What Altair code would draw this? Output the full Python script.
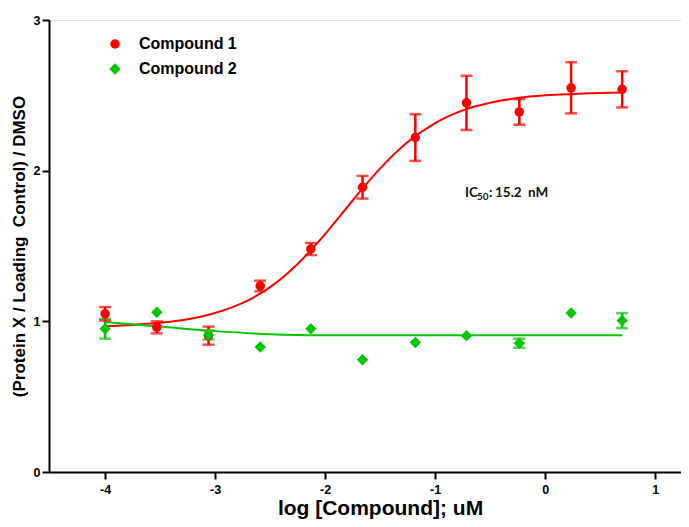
import altair as alt
import pandas as pd

# ---- data ----
log_conc = [-4.0, -3.53, -3.06, -2.59, -2.13, -1.66, -1.18, -0.715, -0.235, 0.236, 0.70]

c1_mean = [1.05, 0.96, 0.905, 1.235, 1.48, 1.89, 2.22, 2.45, 2.39, 2.55, 2.54]
c1_err = [0.045, 0.04, 0.06, 0.035, 0.04, 0.075, 0.155, 0.18, 0.085, 0.17, 0.12]

c2_mean = [0.95, 1.06, 0.91, 0.83, 0.95, 0.745, 0.86, 0.905, 0.855, 1.055, 1.005]
c2_err = [0.065, 0.0, 0.03, 0.0, 0.0, 0.0, 0.0, 0.0, 0.03, 0.0, 0.05]

curve1_x = [-4.0, -3.75, -3.5, -3.25, -3.0, -2.75, -2.5, -2.25, -2.0, -1.75,
            -1.5, -1.25, -1.0, -0.75, -0.5, -0.25, 0.0, 0.35, 0.7]
curve1_y = [0.968, 0.976, 0.99, 1.014, 1.055, 1.122, 1.227, 1.381, 1.579, 1.802,
            2.015, 2.19, 2.316, 2.40, 2.451, 2.482, 2.50, 2.512, 2.518]

curve2_x = [-4.0, -3.5, -3.0, -2.5, -2.0, -1.5, 0.7]
curve2_y = [0.995, 0.965, 0.935, 0.915, 0.908, 0.907, 0.907]

series_names = ["Compound 1", "Compound 2"]
series_colors = ["#FF0000", "#00C800"]
series_shapes = ["circle", "diamond"]
series_sizes = [90, 130]

x_ticks = [-4, -3, -2, -1, 0, 1]
y_ticks = [0, 1, 2, 3]

# ---- tables ----
rows = []
for name, means, errs in [("Compound 1", c1_mean, c1_err), ("Compound 2", c2_mean, c2_err)]:
    for x, m, e in zip(log_conc, means, errs):
        rows.append({"series": name, "x": x, "y": m, "lo": m - e, "hi": m + e, "err": e})
pts = pd.DataFrame(rows)
errs_df = pts[pts["err"] > 0]

curves = pd.DataFrame(
    [{"series": "Compound 1", "x": x, "y": y} for x, y in zip(curve1_x, curve1_y)]
    + [{"series": "Compound 2", "x": x, "y": y} for x, y in zip(curve2_x, curve2_y)]
)

FONT = "Liberation Sans"

x_scale = alt.Scale(domain=[-4.51, 1.235], nice=False, zero=False)
y_scale = alt.Scale(domain=[0, 3], nice=False)
color_scale = alt.Scale(domain=series_names, range=series_colors)
shape_scale = alt.Scale(domain=series_names, range=series_shapes)
size_scale = alt.Scale(domain=series_names, range=series_sizes)

legend = alt.Legend(
    title=None, orient="none", legendX=58, legendY=16,
    labelFont=FONT, labelFontWeight="bold", labelFontSize=16, labelColor="black",
    labelOffset=16, rowPadding=9, padding=0, symbolStrokeWidth=0, symbolOpacity=1,
)

x_axis = alt.Axis(
    values=x_ticks, labelExpr="'' + datum.value", title="log [Compound]; uM",
    labelFont=FONT, labelFontWeight="bold", labelFontSize=12.5, labelColor="black",
    titleFont=FONT, titleFontWeight="bold", titleFontSize=21, titleColor="black",
    titleBaseline="alphabetic", titleY=42, titleX=331, titleAlign="center",
    tickSize=7, tickWidth=2, tickColor="black", domainWidth=2, domainColor="black",
    labelPadding=4, grid=False,
)
y_axis = alt.Axis(
    values=y_ticks, labelExpr="'' + datum.value",
    title="(Protein X / Loading\u00a0 Control) / DMSO",
    labelFont=FONT, labelFontWeight="bold", labelFontSize=12.5, labelColor="black",
    titleFont=FONT, titleFontWeight="bold", titleFontSize=17, titleColor="black",
    titlePadding=5,
    tickSize=7, tickWidth=2, tickColor="black", domainWidth=2, domainColor="black",
    labelPadding=2, grid=False,
)

color_enc = alt.Color("series:N", scale=color_scale, legend=legend)

lines = alt.Chart(curves).mark_line(strokeWidth=2, interpolate="monotone").encode(
    x=alt.X("x:Q", scale=x_scale, axis=x_axis),
    y=alt.Y("y:Q", scale=y_scale, axis=y_axis),
    color=color_enc,
    detail="series:N",
)

bars = alt.Chart(errs_df).mark_rule(strokeWidth=2.5).encode(
    x=alt.X("x:Q", scale=x_scale),
    y=alt.Y("lo:Q", scale=y_scale),
    y2="hi:Q",
    color=color_enc,
)
caps_hi = alt.Chart(errs_df).mark_tick(orient="horizontal", size=12, thickness=2.5).encode(
    x=alt.X("x:Q", scale=x_scale),
    y=alt.Y("hi:Q", scale=y_scale),
    color=color_enc,
)
caps_lo = alt.Chart(errs_df).mark_tick(orient="horizontal", size=12, thickness=2.5).encode(
    x=alt.X("x:Q", scale=x_scale),
    y=alt.Y("lo:Q", scale=y_scale),
    color=color_enc,
)

points = alt.Chart(pts).mark_point(filled=True, opacity=1).encode(
    x=alt.X("x:Q", scale=x_scale),
    y=alt.Y("y:Q", scale=y_scale),
    color=color_enc,
    shape=alt.Shape("series:N", scale=shape_scale, legend=legend),
    size=alt.Size("series:N", scale=size_scale, legend=legend),
)

# IC50 annotation (pixel anchor inside the plot area)
AX, AY = 465 - 49, 193 - 20
ann_font = "Lato"


def ann(text, dx, dy=0, size=13.5):
    return alt.Chart().mark_text(
        text=text, align="left", baseline="middle", dx=dx, dy=dy,
        font=ann_font, fontWeight="bold", fontSize=size, color="#111111",
    ).encode(x=alt.value(AX), y=alt.value(AY))


annotation = [ann("IC", 0), ann("50", 12, 4, 10), ann(":", 24), ann("15.2", 30), ann("nM", 63)]

chart = alt.layer(lines, bars, caps_hi, caps_lo, points, *annotation).properties(
    width=632, height=452,
    autosize=alt.AutoSizeParams(type="none"),
    padding={"left": 41, "top": 12, "right": 0, "bottom": 47},
).configure_view(stroke=None).configure(background="white")

chart.save("out.html", embed_options={"renderer": "svg", "actions": False})
